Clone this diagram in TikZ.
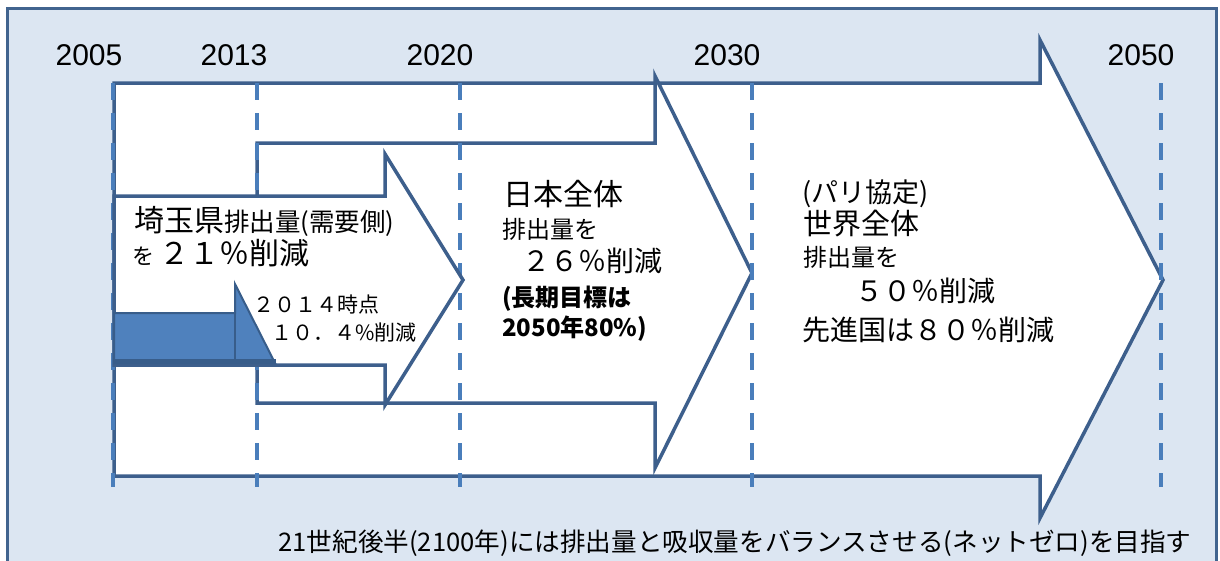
\documentclass[tikz,border=0pt]{standalone}
\usepackage{fontspec}
\setmainfont{Liberation Sans}
\newfontfamily\jp{Noto Sans CJK JP}
\definecolor{bgc}{HTML}{DCE6F2}
\definecolor{framec}{HTML}{41648F}
\definecolor{linec}{HTML}{3D5F8C}
\definecolor{dashc}{HTML}{4A7EBB}
\definecolor{darkfill}{HTML}{4F81BD}
\definecolor{darkline}{HTML}{385D8A}
\newcommand{\fsz}[1]{\fontsize{#1}{#1}\selectfont}
\tikzset{
  arrowshape/.style={draw=linec, line width=3.5pt, fill=white, line join=miter, miter limit=20},
  darkshape/.style={draw=darkline, line width=2pt, fill=darkfill, line join=miter},
  yearline/.style={draw=dashc, line width=3.5pt, dash pattern=on 17pt off 13pt},
  yeartxt/.style={inner sep=0pt, anchor=base, text=black, font=\fsz{30}},
  txt/.style={inner sep=0pt, anchor=base west, text=black},
}
\begin{document}
\begin{tikzpicture}[x=1pt,y=-1pt]
\useasboundingbox (0,0) rectangle (1220,560);
\clip (0,0) rectangle (1220,560);
% frame
\draw[fill=bgc, draw=framec, line width=3pt] (7,8) rectangle (1216,575);
% big arrow 2005-2050
\path[arrowshape] (114,83) -- (1040,83) -- (1040,40) -- (1163,280) -- (1040,518) -- (1040,476) -- (114,476) -- cycle;
% second arrow 2013-2030
\path[arrowshape] (257,143) -- (655,143) -- (655,76) -- (752,273) -- (655,468) -- (655,403) -- (257,403) -- cycle;
% year lines
\coordinate (t2005) at (113,83);  \coordinate (b2005) at (113,487);
\coordinate (t2013) at (257,83);  \coordinate (b2013) at (257,487);
\coordinate (t2020) at (460,83);  \coordinate (b2020) at (460,487);
\coordinate (t2030) at (752,83);  \coordinate (b2030) at (752,487);
\coordinate (t2050) at (1161,83); \coordinate (b2050) at (1161,487);
\foreach \y in {2005,2013,2020,2030,2050} { \draw[yearline] (t\y) -- (b\y); }
% Saitama arrow
\path[arrowshape] (114,196) -- (385,196) -- (385,154) -- (463,280) -- (385,405) -- (385,365) -- (114,365) -- cycle;
% dark 2014 arrow
\path[darkshape] (114,313) -- (235,313) -- (235,284) -- (275,363) -- (114,363) -- cycle;
\draw[draw=darkline, line width=2pt] (235,313) -- (235,363);
\draw[draw=darkline, line width=5pt] (114,361) -- (276,361);
% years
\node[yeartxt] (y2005) at (89,65) {2005};
\node[yeartxt] (y2013) at (234,65) {2013};
\node[yeartxt] (y2020) at (440,65) {2020};
\node[yeartxt] (y2030) at (727,65) {2030};
\node[yeartxt] (y2050) at (1141,65) {2050};
% Saitama texts
\node[txt] (st1) at (134,231) {\jp{\fsz{30}埼玉県}{\fsz{25.5}排出量(需要側)}};
\node[txt] (st2) at (132,264) {\jp{\fsz{22}を }{\fsz{30}２１％削減}};
\node[txt] (st3) at (253,312) {\jp\fsz{21}２０１４時点};
\node[txt] (st4) at (271,340) {\jp\fsz{21}１０．４\%削減};
% Japan texts
\node[txt] (jp1) at (503,205) {\jp\fsz{30}日本全体};
\node[txt] (jp2) at (502,238) {\jp\fsz{24}排出量を};
\node[txt] (jp3) at (522,271) {\jp\fsz{28}２６％削減};
\node[txt] (jp4) at (502,306) {\jp\bfseries\fsz{24}(長期目標は};
\node[txt] (jp5) at (502,336) {\jp\bfseries\fsz{24}2050年80\%)};
% World texts
\node[txt] (w1) at (802,202) {\jp\fsz{27}(パリ協定)};
\node[txt] (w2) at (803,234) {\jp\fsz{29}世界全体};
\node[txt] (w3) at (803,266) {\jp\fsz{24}排出量を};
\node[txt] (w4) at (855,301) {\jp\fsz{28}５０％削減};
\node[txt] (w5) at (802,340) {\jp\fsz{28}先進国は８０％削減};
% bottom text
\node[inner sep=0pt, anchor=base, text=black] (note) at (735,551) {\jp\fsz{25.6}21世紀後半(2100年)には排出量と吸収量をバランスさせる(ネットゼロ)を目指す};
\end{tikzpicture}
\end{document}
